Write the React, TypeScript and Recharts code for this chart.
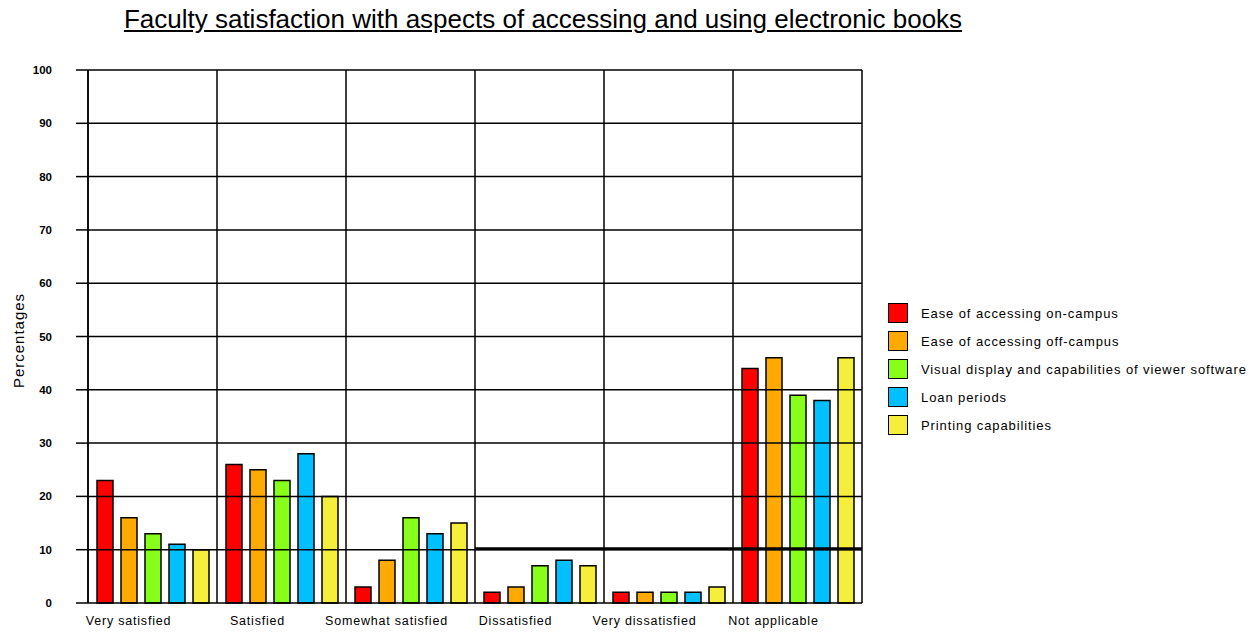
import React from "react";
import {
  Bar,
  BarChart,
  CartesianGrid,
  ReferenceLine,
  XAxis,
  YAxis,
} from "recharts";

const categories = [
  "Very satisfied",
  "Satisfied",
  "Somewhat satisfied",
  "Dissatisfied",
  "Very dissatisfied",
  "Not applicable",
];
const onCampus = [23, 26, 3, 2, 2, 44];
const offCampus = [16, 25, 8, 3, 2, 46];
const viewerSoftware = [13, 23, 16, 7, 2, 39];
const loanPeriods = [11, 28, 13, 8, 2, 38];
const printing = [10, 20, 15, 7, 3, 46];
const yTicks = [0, 10, 20, 30, 40, 50, 60, 70, 80, 90, 100];

const series = [
  { key: "onCampus", name: "Ease of accessing on-campus", color: "#ff0000", values: onCampus },
  { key: "offCampus", name: "Ease of accessing off-campus", color: "#ffaa00", values: offCampus },
  { key: "viewer", name: "Visual display and capabilities of viewer software", color: "#88ff1a", values: viewerSoftware },
  { key: "loan", name: "Loan periods", color: "#00c0ff", values: loanPeriods },
  { key: "printing", name: "Printing capabilities", color: "#f5ee3a", values: printing },
];

const data = categories.map((name, i) => {
  const row: Record<string, string | number> = { name };
  series.forEach((s) => {
    row[s.key] = s.values[i];
  });
  return row;
});

const font = "'Liberation Sans', Arial, sans-serif";

function CategoryTick({ x, y, payload }: any) {
  return (
    <text x={x - 24} y={y + 14} textAnchor="middle" fontSize={12.5} letterSpacing={0.8} fontFamily={font} fill="#000">
      {payload.value}
    </text>
  );
}

function LegendBox() {
  return (
    <div style={{ position: "absolute", left: 888, top: 299, fontFamily: font, fontSize: 13, letterSpacing: 0.9, color: "#000" }}>
      {series.map((s) => (
        <div key={s.key} style={{ display: "flex", alignItems: "center", height: 28 }}>
          <div style={{ width: 18, height: 18, background: s.color, border: "1.5px solid #000", marginRight: 13 }} />
          <span style={{ whiteSpace: "nowrap" }}>{s.name}</span>
        </div>
      ))}
    </div>
  );
}

export default function App() {
  return (
    <div style={{ position: "absolute", left: 0, top: 0, width: 1259, height: 633, background: "#fff", overflow: "hidden" }}>
      <div
        style={{
          position: "absolute",
          left: 0,
          top: 4,
          width: 1086,
          textAlign: "center",
          fontFamily: font,
          fontSize: 26,
          textDecoration: "underline",
          color: "#000",
        }}
      >
        Faculty satisfaction with aspects of accessing and using electronic books
      </div>
      <BarChart
        width={1259}
        height={633}
        data={data}
        margin={{ top: 70, right: 397, bottom: 10, left: 0 }}
        barSize={16}
        barGap={8}
        style={{ position: "absolute", left: 0, top: 0 }}
      >
        <CartesianGrid
          stroke="#000"
          strokeWidth={1.5}
          horizontal={false}
          verticalCoordinatesGenerator={({ offset }: any) =>
            categories.map((_, i) => offset.left + (i * offset.width) / categories.length).concat(offset.left + offset.width)
          }
        />
        <XAxis
          dataKey="name"
          height={20}
          tick={<CategoryTick />}
          tickLine={false}
          axisLine={{ stroke: "#000", strokeWidth: 1.5 }}
          interval={0}
        />
        <YAxis
          width={88}
          domain={[0, 100]}
          ticks={yTicks}
          interval={0}
          tickSize={12}
          tickMargin={24}
          tickLine={{ stroke: "#000", strokeWidth: 1.5 }}
          axisLine={{ stroke: "#000", strokeWidth: 1.5 }}
          tick={{ fill: "#000", fontSize: 11.5, fontWeight: "bold", fontFamily: font }}
          label={{
            content: ({ viewBox }: any) => (
              <text
                x={18}
                y={viewBox.y + viewBox.height / 2 + 4}
                transform={`rotate(-90, 18, ${viewBox.y + viewBox.height / 2 + 4})`}
                textAnchor="middle"
                dominantBaseline="central"
                fontSize={15}
                letterSpacing={1}
                fontFamily={font}
                fill="#000"
              >
                Percentages
              </text>
            ),
          }}
        />
        {series.map((s) => (
          <Bar key={s.key} dataKey={s.key} name={s.name} fill={s.color} stroke="#000" strokeWidth={1.5} isAnimationActive={false} />
        ))}
        {yTicks.slice(1).map((t) => (
          <ReferenceLine key={t} y={t} stroke="#000" strokeWidth={1.5} />
        ))}
        <ReferenceLine
          y={10}
          stroke="#000"
          strokeWidth={3}
          shape={(p: any) => (
            <line x1={p.x1 + (p.x2 - p.x1) / 2} y1={p.y1 - 1} x2={p.x2} y2={p.y2 - 1} stroke="#000" strokeWidth={3} />
          )}
        />
      </BarChart>
      <LegendBox />
    </div>
  );
}
